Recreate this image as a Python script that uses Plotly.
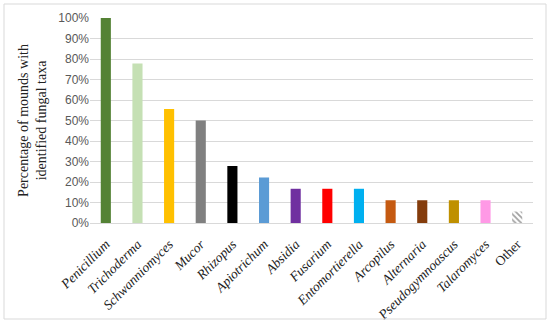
import plotly.graph_objects as go

categories = ["Penicillium", "Trichoderma", "Schwanniomyces", "Mucor", "Rhizopus",
              "Apiotrichum", "Absidia", "Fusarium", "Entomortierella", "Arcopilus",
              "Alternaria", "Pseudogymnoascus", "Talaromyces", "Other"]
italic = [True] * 13 + [False]
values = [1.0, 0.778, 0.556, 0.50, 0.278, 0.222, 0.167, 0.167, 0.167,
          0.111, 0.111, 0.111, 0.111, 0.056]
colors = ["#548235", "#C5E0B4", "#FFC000", "#808080", "#000000", "#5B9BD5",
          "#7030A0", "#FF0000", "#00B0F0", "#C55A11", "#843C0C", "#BF9000",
          "#FF99E6", "#FFFFFF"]
y_ticks = [0, 0.1, 0.2, 0.3, 0.4, 0.5, 0.6, 0.7, 0.8, 0.9, 1.0]
y_ticklabels = ["0%", "10%", "20%", "30%", "40%", "50%", "60%", "70%", "80%", "90%", "100%"]

shapes_pat = [""] * (len(categories) - 1) + ["\\"]
x_ticktext = [f"<i>{c}</i>" if it else c for c, it in zip(categories, italic)]

fig = go.Figure(go.Bar(
    x=categories, y=values,
    marker=dict(color=colors, line=dict(width=0),
                pattern=dict(shape=shapes_pat, fgcolor="#7F7F7F", size=4, solidity=0.45)),
    width=0.32,
))

fig.update_layout(
    width=550, height=324,
    margin=dict(l=90, r=17, t=18, b=101),
    plot_bgcolor="white", paper_bgcolor="white",
    showlegend=False,
    xaxis=dict(
        automargin=False,
        tickangle=-45,
        tickmode="array", tickvals=categories, ticktext=x_ticktext,
        tickfont=dict(family="Liberation Serif", size=13.5, color="#222222"),
        ticklabelstandoff=7,
        showline=True, linecolor="#D9D9D9", linewidth=1,
        ticks="", showgrid=False,
    ),
    yaxis=dict(
        automargin=False,
        range=[0, 1.0],
        tickvals=y_ticks, ticktext=y_ticklabels,
        tickfont=dict(family="Liberation Sans", size=12, color="#595959"),
        showgrid=True, gridcolor="#D9D9D9", gridwidth=1,
        zeroline=False, ticks="",
        title=dict(text="Percentage of mounds with<br>identified fungal taxa",
                   font=dict(family="Liberation Serif", size=14, color="#222222"),
                   standoff=8),
    ),
    shapes=[dict(type="rect", xref="paper", yref="paper",
                 x0=-86/443, x1=1 + 13/443, y0=-96/205, y1=1 + 14/205,
                 line=dict(color="#D9D9D9", width=1))],
)

fig.write_html("out.html", config={"displayModeBar": False},
               post_script="document.body.style.margin='0';document.body.style.overflow='hidden';")
